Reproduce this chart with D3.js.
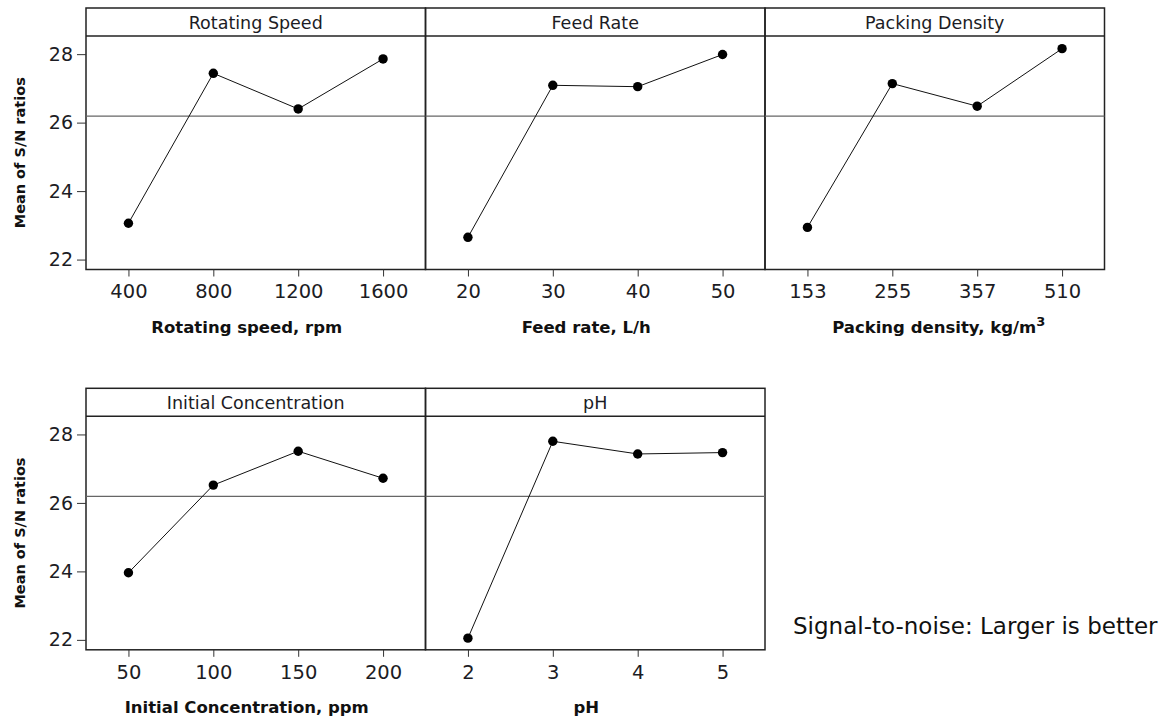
<!DOCTYPE html>
<html>
<head>
<meta charset="utf-8">
<script src="https://cdn.jsdelivr.net/npm/d3@7"></script>
<style>
  body { margin: 0; background: #fff; }
  svg { font-family: "DejaVu Sans", sans-serif; }
  .tick text { fill: #1c1c24; }
  .strip { font-size: 17.5px; fill: #1c1c24; }
  .xtitle { font-size: 16.5px; font-weight: bold; fill: #111; }
  .ytitle { font-size: 14.5px; font-weight: bold; fill: #111; }
  .note { font-size: 23px; fill: #111; }
</style>
</head>
<body>
<div id="chart"></div>
<script>
const factors = ["Rotating Speed", "Feed Rate", "Packing Density", "Initial Concentration", "pH"];
const levelLabels = [
    ["400", "800", "1200", "1600"],
    ["20", "30", "40", "50"],
    ["153", "255", "357", "510"],
    ["50", "100", "150", "200"],
    ["2", "3", "4", "5"]
];
const snMeans = [
    [23.06, 27.44, 26.40, 27.86],
    [22.65, 27.09, 27.05, 27.99],
    [22.94, 27.14, 26.48, 28.16],
    [23.96, 26.52, 27.51, 26.72],
    [22.05, 27.80, 27.43, 27.47]
];
const axisTitles = ["Rotating speed, rpm", "Feed rate, L/h", "Packing density, kg/m", "Initial Concentration, ppm", "pH"];
const yTicks = [22, 24, 26, 28];
const yLimits = [21.71, 28.53];
const grandMean = 26.19;

const W = 1171, H = 722;
const left = 86, panelW = 339.5;
const stripH = 28, plotH = 233.5;
const rowTops = [8, 388.3];

const svg = d3.select('#chart').append('svg')
    .attr('width', W)
    .attr('height', H);

factors.forEach((name, i) => {
    const row = i < 3 ? 0 : 1;
    const col = i < 3 ? i : i - 3;
    const x0 = left + col * panelW;
    const top = rowTops[row];
    const plotTop = top + stripH;
    const plotBottom = plotTop + plotH;

    const g = svg.append('g');

    const xScale = d3.scalePoint()
        .domain(levelLabels[i])
        .range([x0, x0 + panelW])
        .padding(0.5);

    const yScale = d3.scaleLinear()
        .domain(yLimits)
        .range([plotBottom, plotTop]);

    // strip + frame
    g.append('rect')
        .attr('x', x0).attr('y', top)
        .attr('width', panelW).attr('height', stripH + plotH)
        .attr('fill', 'none')
        .attr('stroke', '#222')
        .attr('stroke-width', 1.5);

    g.append('line')
        .attr('x1', x0).attr('x2', x0 + panelW)
        .attr('y1', plotTop).attr('y2', plotTop)
        .attr('stroke', '#222')
        .attr('stroke-width', 1.5);

    g.append('text')
        .attr('class', 'strip')
        .attr('x', x0 + panelW / 2)
        .attr('y', top + stripH / 2 + 1)
        .attr('text-anchor', 'middle')
        .attr('dominant-baseline', 'central')
        .text(name);

    // reference line (grand mean)
    g.append('line')
        .attr('x1', x0).attr('x2', x0 + panelW)
        .attr('y1', yScale(grandMean)).attr('y2', yScale(grandMean))
        .attr('stroke', '#666')
        .attr('stroke-width', 1.2);

    // x axis
    const xAxis = g.append('g')
        .attr('transform', `translate(0, ${plotBottom})`)
        .call(d3.axisBottom(xScale).tickSize(7).tickPadding(8));
    xAxis.select('.domain').remove();
    xAxis.selectAll('.tick line').attr('stroke', '#333');
    xAxis.selectAll('.tick text').attr('font-size', 19.5).attr('font-family', '"DejaVu Sans", sans-serif');

    // y axis only on first column
    if (col === 0) {
        const yAxis = g.append('g')
            .attr('transform', `translate(${x0}, 0)`)
            .call(d3.axisLeft(yScale).tickValues(yTicks).tickFormat(d3.format('d')).tickSize(9).tickPadding(4));
        yAxis.select('.domain').remove();
        yAxis.selectAll('.tick line').attr('stroke', '#333');
        yAxis.selectAll('.tick text').attr('font-size', 19).attr('font-family', '"DejaVu Sans", sans-serif');

        g.append('text')
            .attr('class', 'ytitle')
            .attr('transform', `translate(25, ${(plotTop + plotBottom) / 2}) rotate(-90)`)
            .attr('text-anchor', 'middle')
            .text('Mean of S/N ratios');
    }

    // axis title
    const t = g.append('text')
        .attr('class', 'xtitle')
        .attr('x', x0 + panelW / 2 - (i === 2 ? -4 : 9))
        .attr('y', plotBottom + 63)
        .attr('text-anchor', 'middle')
        .text(axisTitles[i]);
    if (i === 2) {
        t.append('tspan')
            .attr('dy', -7)
            .attr('font-size', 13)
            .text('3');
    }

    // main effect line and points
    const pts = levelLabels[i].map((lv, k) => [xScale(lv), yScale(snMeans[i][k])]);

    g.append('path')
        .attr('d', d3.line()(pts))
        .attr('fill', 'none')
        .attr('stroke', '#111')
        .attr('stroke-width', 1);

    g.selectAll('circle.pt')
        .data(pts)
        .enter()
        .append('circle')
        .attr('class', 'pt')
        .attr('cx', d => d[0])
        .attr('cy', d => d[1])
        .attr('r', 4.7)
        .attr('fill', '#000');
});

svg.append('text')
    .attr('class', 'note')
    .attr('x', 793)
    .attr('y', 634)
    .text('Signal-to-noise: Larger is better');
</script>
</body>
</html>
